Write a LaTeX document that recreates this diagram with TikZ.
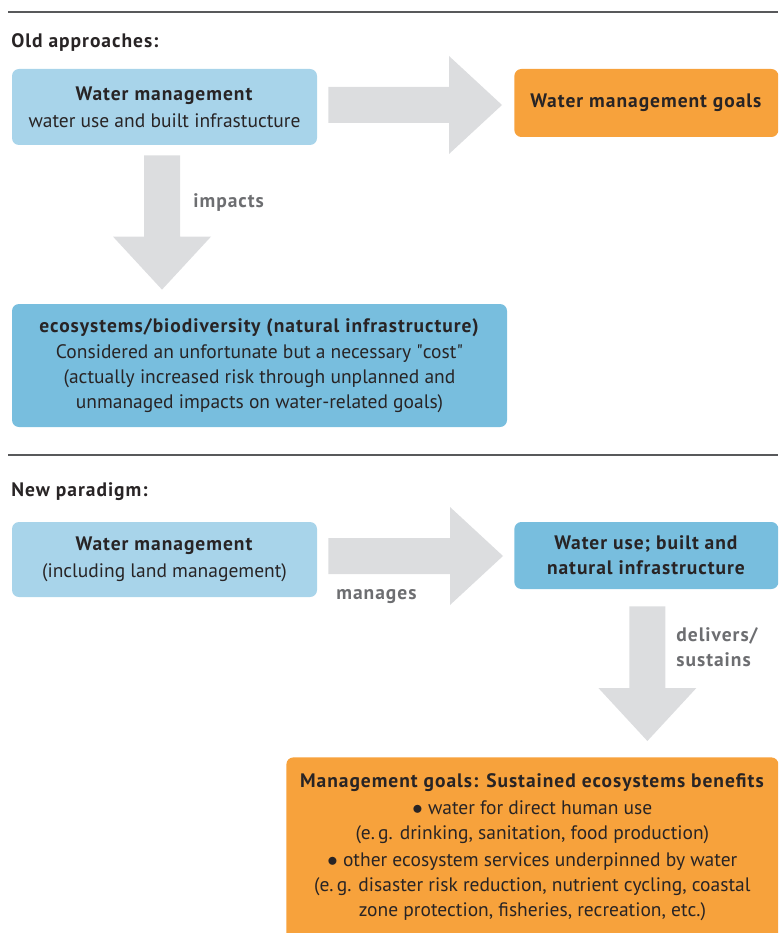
\documentclass[tikz,border=0pt]{standalone}
\usepackage{fontspec}
\setmainfont{PT Sans}[BoldFeatures={LetterSpace=5}]
\usepackage{tikz}
\usetikzlibrary{calc}
\definecolor{lightblue}{RGB}{168,212,234}
\definecolor{midblue}{RGB}{120,190,222}
\definecolor{goalorange}{RGB}{247,162,60}
\definecolor{arrowgray}{RGB}{220,221,223}
\definecolor{labelgray}{RGB}{109,110,113}
\definecolor{textdark}{RGB}{40,36,37}
\definecolor{rulegray}{RGB}{88,89,91}
\tikzset{every picture/.style={line width=0.75pt}}
\tikzset{
	box/.style={rounded corners=7pt, inner sep=0pt, align=center, text=textdark, font=\fontsize{19.5}{25}\selectfont},
	lightbox/.style={box, fill=lightblue},
	ecobox/.style={box, fill=midblue},
	goalbox/.style={box, fill=goalorange},
	header/.style={anchor=west, inner sep=0pt, text=textdark, font=\fontsize{19.5}{25}\selectfont\bfseries},
	arrowlabel/.style={anchor=west, inner sep=0pt, align=left, text=labelgray, font=\fontsize{19.5}{25}\selectfont\bfseries},
	rule/.style={draw=rulegray, line width=1.2pt},
	blockarrow/.style={fill=arrowgray, draw=none, to path={
		-- ($(\tikztostart)!18pt!90:(\tikztotarget)$)
		-- ($(\tikztotarget)!53pt!(\tikztostart)!18pt!-90:(\tikztostart)$)
		-- ($(\tikztotarget)!53pt!(\tikztostart)!49pt!-90:(\tikztostart)$)
		-- (\tikztotarget)
		-- ($(\tikztotarget)!53pt!(\tikztostart)!49pt!90:(\tikztostart)$)
		-- ($(\tikztotarget)!53pt!(\tikztostart)!18pt!90:(\tikztostart)$)
		-- ($(\tikztostart)!18pt!-90:(\tikztotarget)$)
		-- cycle}}
}

\begin{document}
\begin{tikzpicture}[x=1pt,y=1pt,yscale=-1,xscale=1]
	\useasboundingbox (0,0) rectangle (778,933);
	\clip (0,0) rectangle (778,933);
	
	% old approaches
	\draw[rule] (8,12) -- (778,12);
	\node[header] (oldhead) at (11,42) {Old approaches:};
	\node[lightbox, minimum width=305, minimum height=76] (wmold) at (164.5,107) {\textbf{Water management}\\[2pt] water use and built infrastucture};
	\node[goalbox, anchor=west, minimum width=264, minimum height=68] (goalsold) at (514,103) {\textbf{Water management goals}};
	\node[ecobox, minimum width=495, minimum height=123] (ecoold) at (259.5,365.5) {\textbf{ecosystems/biodiversity (natural infrastructure)}\\[1pt] Considered an unfortunate but a necessary \textquotedbl cost\textquotedbl\\ (actually increased risk through unplanned and\\ unmanaged impacts on water-related goals)};
	
	\coordinate (oldrights) at ($(wmold.east)+(11,-2)$);
	\coordinate (oldrighte) at ($(goalsold.west |- oldrights)+(-12,0)$);
	\coordinate (olddowns) at ($(wmold.south)+(-2.5,10)$);
	\coordinate (olddowne) at ($(olddowns |- ecoold.north)+(0,-14)$);
	\fill[blockarrow] (oldrights) to (oldrighte);
	\fill[blockarrow] (olddowns) to (olddowne);
	\node[arrowlabel] (impacts) at (193,203) {impacts};
	
	% new paradigm
	\draw[rule] (8,455) -- (778,455);
	\node[header] (newhead) at (11,492) {New paradigm:};
	\node[lightbox, minimum width=305, minimum height=75] (wmnew) at (164.5,559.5) {\textbf{Water management}\\[2pt] (including land management)};
	\node[ecobox, anchor=west, minimum width=264, minimum height=67] (usenew) at (514,555.5) {\textbf{Water use; built and}\\ \textbf{natural infrastructure}};
	\node[goalbox, anchor=north west, minimum width=492, inner ysep=16pt] (goalsnew) at (286,757) {\textbf{Management goals: Sustained ecosystems benefits}\\[2pt] $\bullet$ water for direct human use\\ (e.\,g. drinking, sanitation, food production)\\[2pt] $\bullet$ other ecosystem services underpinned by water\\ (e.\,g. disaster risk reduction, nutrient cycling, coastal\\ zone protection, fisheries, recreation, etc.)\\[20pt]};
	
	\coordinate (newrights) at ($(wmnew.east)+(11,-3.5)$);
	\coordinate (newrighte) at ($(usenew.west |- newrights)+(-11,0)$);
	\coordinate (newdowns) at ($(usenew.south)+(1,17)$);
	\coordinate (newdowne) at ($(newdowns |- goalsnew.north)+(0,-16)$);
	\fill[blockarrow] (newrights) to (newrighte);
	\fill[blockarrow] (newdowns) to (newdowne);
	\node[arrowlabel] (manages) at (336,597) {manages};
	\node[arrowlabel] (delivers) at (676,647.5) {delivers/\\sustains};
\end{tikzpicture}
\end{document}
